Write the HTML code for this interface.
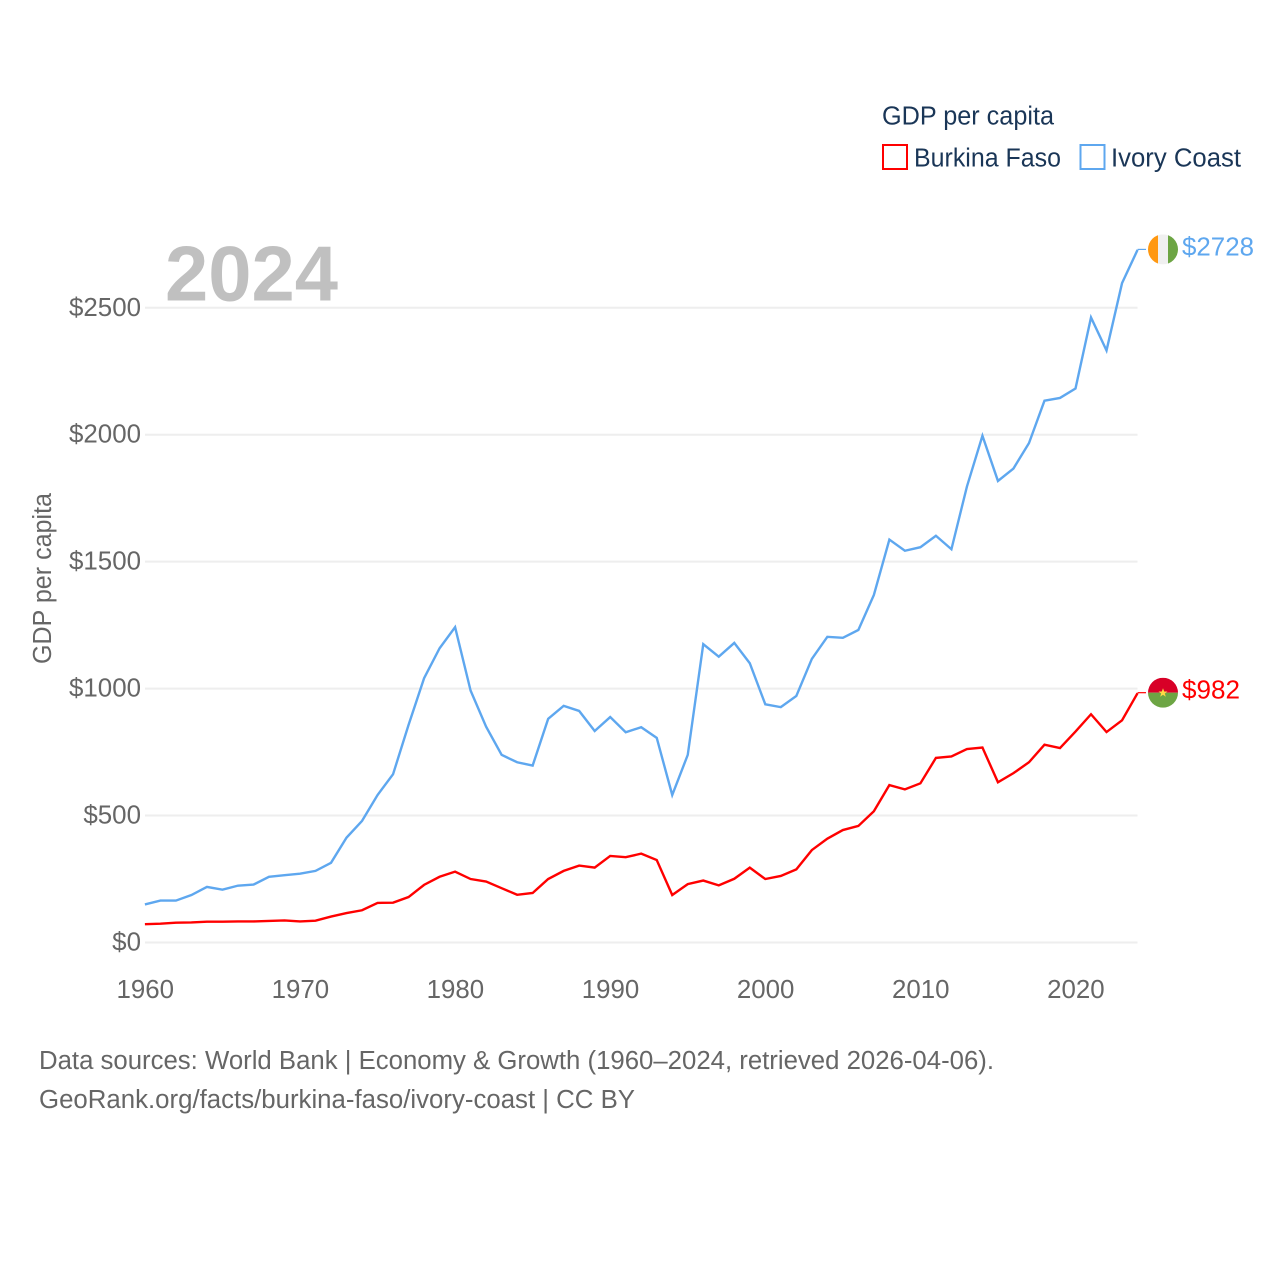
<!DOCTYPE html>
<html lang="en">
<head>
<meta charset="utf-8">
<title>GDP per capita: Burkina Faso and Ivory Coast</title>
<style>
html,body{margin:0;padding:0;background:#fff}
svg{display:block}
text{font-family:"Liberation Sans",sans-serif}
.tick{font-size:25.5px;fill:#666}
.legend{font-size:25.5px;fill:#1a3657}
.foot{font-size:25.5px;fill:#666}
</style>
</head>
<body>
<svg id="chart" xmlns="http://www.w3.org/2000/svg" width="1280" height="1280" viewBox="0 0 1280 1280">
  <defs>
    <clipPath id="clip-ci"><circle cx="0" cy="0" r="15"/></clipPath>
    <clipPath id="clip-bf"><circle cx="0" cy="0" r="15"/></clipPath>
  </defs>
  <rect width="1280" height="1280" fill="#fff"/>
  <g id="grid"></g>
  <g id="yticks"></g>
  <g id="xticks"></g>
  <text id="year-label" x="165" y="300.5" font-size="78" font-weight="700" fill="#c0c0c0" textLength="173" lengthAdjust="spacingAndGlyphs">2024</text>
  <text class="tick" transform="translate(51,664) rotate(-90)" textLength="171" lengthAdjust="spacingAndGlyphs">GDP per capita</text>

  <polyline id="line-bf" fill="none" stroke="#ff0000" stroke-width="2.4" stroke-linejoin="miter"/>
  <polyline id="line-ci" fill="none" stroke="#5ea7ef" stroke-width="2.4" stroke-linejoin="miter"/>
  <line id="conn-bf" stroke="#ff0000" stroke-width="1.2"/>
  <line id="conn-ci" stroke="#5ea7ef" stroke-width="1.2"/>

  <g id="flag-ci">
    <g clip-path="url(#clip-ci)">
      <rect x="-15" y="-15" width="10" height="30" fill="#ff9811"/>
      <rect x="-5" y="-15" width="10" height="30" fill="#f0f0f0"/>
      <rect x="5" y="-15" width="10" height="30" fill="#6da544"/>
    </g>
  </g>
  <g id="flag-bf">
    <g clip-path="url(#clip-bf)">
      <rect x="-15" y="-15" width="30" height="15" fill="#d80027"/>
      <rect x="-15" y="0" width="30" height="15" fill="#6da544"/>
    </g>
    <polygon points="0,-4.5 1.2,-1.2 4.5,-1.2 1.8,0.8 2.8,4 0,2 -2.8,4 -1.8,0.8 -4.5,-1.2 -1.2,-1.2" fill="#ffda44"/>
  </g>
  <text id="value-ci" x="1182" font-size="25.5" fill="#5ea7ef" textLength="72" lengthAdjust="spacingAndGlyphs"></text>
  <text id="value-bf" x="1182" font-size="25.5" fill="#ff0000" textLength="58" lengthAdjust="spacingAndGlyphs"></text>

  <g>
    <text class="legend" x="882" y="124.5" textLength="172" lengthAdjust="spacingAndGlyphs">GDP per capita</text>
    <rect x="883" y="145" width="24" height="24" fill="none" stroke="#ff0000" stroke-width="2"/>
    <text class="legend" x="914" y="166.5" textLength="147" lengthAdjust="spacingAndGlyphs">Burkina Faso</text>
    <rect x="1080.5" y="145" width="24" height="24" fill="none" stroke="#5ea7ef" stroke-width="2"/>
    <text class="legend" x="1111" y="166.5" textLength="130" lengthAdjust="spacingAndGlyphs">Ivory Coast</text>
  </g>

  <text class="foot" x="39" y="1069" textLength="955" lengthAdjust="spacingAndGlyphs">Data sources: World Bank | Economy &amp; Growth (1960–2024, retrieved 2026-04-06).</text>
  <text class="foot" x="39" y="1108" textLength="596" lengthAdjust="spacingAndGlyphs">GeoRank.org/facts/burkina-faso/ivory-coast | CC BY</text>
</svg>
<script>
const startYear = 1960;
const yearTicks = [1960, 1970, 1980, 1990, 2000, 2010, 2020];
const valueTicks = [0, 500, 1000, 1500, 2000, 2500];
const ivoryCoast = [150,165,165,187,219,208,224,228,259,265,271,282,314,413,479,581,663,857,1041,1159,1242,992,850,739,710,697,881,932,912,833,888,828,848,806,581,739,1175,1126,1180,1100,938,927,971,1117,1204,1200,1231,1369,1587,1543,1557,1602,1549,1796,1996,1818,1867,1967,2134,2145,2182,2462,2332,2597,2728];
const burkinaFaso = [72,74,78,79,82,82,83,83,85,87,83,86,102,116,127,156,157,179,227,259,279,250,240,214,188,195,250,282,303,295,341,336,350,325,187,230,244,225,251,295,250,262,288,364,409,443,459,517,620,603,627,727,733,762,768,631,667,710,779,766,831,899,829,875,982];

const NS = 'http://www.w3.org/2000/svg';
function xScale(year) { return 144.9 + (year - 1960) * 15.51; }
function yScale(value) { return 942.5 - value * 0.25388; }
function points(values) {
  return values.map(function (v, i) {
    return xScale(startYear + i).toFixed(2) + ',' + yScale(v).toFixed(2);
  }).join(' ');
}

const grid = document.getElementById('grid');
const yticks = document.getElementById('yticks');
const xticks = document.getElementById('xticks');

valueTicks.forEach(function (v) {
  const line = document.createElementNS(NS, 'line');
  
  
  line.setAttribute('x1', 145);
  line.setAttribute('x2', 1137.5);
  line.setAttribute('y1', yScale(v));
  line.setAttribute('y2', yScale(v));
  line.setAttribute('stroke', '#eeeeee');
  line.setAttribute('stroke-width', '2');
  grid.appendChild(line);

  const label = document.createElementNS(NS, 'text');
  
  
  label.setAttribute('class', 'tick');
  const str = '$' + v;
  const w = str.length * 14.4;
  label.setAttribute('x', 141 - w);
  label.setAttribute('y', yScale(v) + 8);
  label.setAttribute('textLength', w);
  label.setAttribute('lengthAdjust', 'spacingAndGlyphs');
  label.textContent = str;
  yticks.appendChild(label);
});

yearTicks.forEach(function (y) {
  const label = document.createElementNS(NS, 'text');
  
  
  label.setAttribute('class', 'tick');
  label.setAttribute('x', xScale(y) - 28.4);
  label.setAttribute('y', 998);
  label.setAttribute('textLength', 57.5);
  label.setAttribute('lengthAdjust', 'spacingAndGlyphs');
  label.textContent = String(y);
  xticks.appendChild(label);
});

document.getElementById('line-ci').setAttribute('points', points(ivoryCoast));
document.getElementById('line-bf').setAttribute('points', points(burkinaFaso));

function placeEnd(values, key) {
  const last = values[values.length - 1];
  const lastX = xScale(startYear + values.length - 1);
  const cy = yScale(last);
  const conn = document.getElementById('conn-' + key);
  conn.setAttribute('x1', lastX);
  conn.setAttribute('x2', 1146);
  conn.setAttribute('y1', cy - 0.5);
  conn.setAttribute('y2', cy - 0.5);
  document.getElementById('flag-' + key).setAttribute('transform', 'translate(1163,' + (cy - 0.5) + ')');
  const val = document.getElementById('value-' + key);
  val.setAttribute('y', cy + 5.5);
  val.textContent = '$' + last;
}
placeEnd(ivoryCoast, 'ci');
placeEnd(burkinaFaso, 'bf');
</script>
</body>
</html>
